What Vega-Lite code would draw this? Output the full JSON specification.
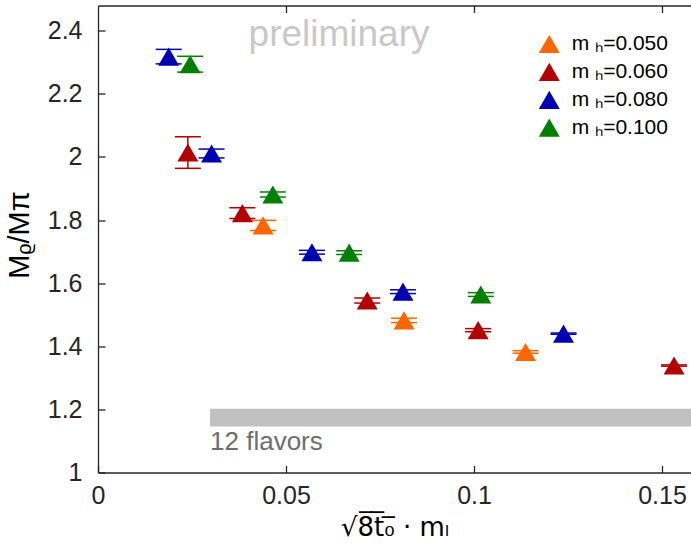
{
  "$schema": "https://vega.github.io/schema/vega-lite/v6.json",
  "width": 593,
  "height": 467,
  "autosize": {"type": "none"},
  "padding": {"left": 98, "top": 5.5, "right": 0, "bottom": 75.5},
  "background": "white",
  "config": {
    "view": {"stroke": null},
    "font": "Liberation Sans",
    "axis": {
      "grid": false,
      "domainColor": "#262626",
      "domainWidth": 1.3,
      "tickColor": "#262626",
      "tickWidth": 1.3,
      "tickSize": -7,
      "labelFont": "Liberation Sans",
      "labelFontSize": 25,
      "labelColor": "#262626",
      "labelFlush": false,
      "titleFont": "Liberation Sans",
      "titleFontSize": 29,
      "titleFontWeight": "normal",
      "titleColor": "#000000"
    },
    "legend": {
      "padding": 0,
      "title": null,
      "symbolType": "triangle-up",
      "symbolSize": 440,
      "symbolOpacity": 1,
      "symbolStrokeWidth": 0,
      "labelFontSize": 21,
      "labelFont": "Liberation Sans",
      "labelColor": "#000000",
      "labelOffset": 12,
      "rowPadding": 5.9
    }
  },
  "datasets": {
    "points": [
      {"mh": "0.080", "x": 0.0188, "y": 2.318, "lo": 2.295, "hi": 2.341},
      {"mh": "0.100", "x": 0.0245, "y": 2.294, "lo": 2.269, "hi": 2.319},
      {"mh": "0.060", "x": 0.0239, "y": 2.014, "lo": 1.964, "hi": 2.064},
      {"mh": "0.080", "x": 0.0302, "y": 2.011, "lo": 1.997, "hi": 2.025},
      {"mh": "0.100", "x": 0.0465, "y": 1.881, "lo": 1.873, "hi": 1.889},
      {"mh": "0.060", "x": 0.0384, "y": 1.822, "lo": 1.805, "hi": 1.839},
      {"mh": "0.050", "x": 0.0439, "y": 1.783, "lo": 1.767, "hi": 1.799},
      {"mh": "0.080", "x": 0.0569, "y": 1.698, "lo": 1.692, "hi": 1.704},
      {"mh": "0.100", "x": 0.0668, "y": 1.697, "lo": 1.691, "hi": 1.703},
      {"mh": "0.060", "x": 0.0716, "y": 1.545, "lo": 1.537, "hi": 1.553},
      {"mh": "0.080", "x": 0.0811, "y": 1.573, "lo": 1.567, "hi": 1.579},
      {"mh": "0.050", "x": 0.0814, "y": 1.482, "lo": 1.475, "hi": 1.489},
      {"mh": "0.100", "x": 0.1018, "y": 1.564, "lo": 1.558, "hi": 1.570},
      {"mh": "0.060", "x": 0.1011, "y": 1.451, "lo": 1.446, "hi": 1.456},
      {"mh": "0.050", "x": 0.1137, "y": 1.382, "lo": 1.378, "hi": 1.386},
      {"mh": "0.080", "x": 0.1238, "y": 1.440, "lo": 1.438, "hi": 1.442},
      {"mh": "0.060", "x": 0.1532, "y": 1.339, "lo": 1.337, "hi": 1.341}
    ]
  },
  "resolve": {"axis": {"x": "independent"}},
  "layer": [
    {
      "data": {"values": [{"x": 0.0298, "x2": 0.17, "y": 1.146, "y2": 1.202}]},
      "mark": {"type": "rect", "color": "#c0c0c0", "clip": true},
      "encoding": {
        "x": {"field": "x", "type": "quantitative", "scale": {"domain": [0, 0.1577], "nice": false, "zero": false},
              "axis": {"orient": "top", "labels": false, "title": null, "values": [0.05, 0.1, 0.15]}},
        "x2": {"field": "x2"},
        "y": {"field": "y", "type": "quantitative", "title": "Mᵨ/Mπ", "scale": {"domain": [1, 2.48], "nice": false, "zero": false}},
        "y2": {"field": "y2"}
      }
    },
    {
      "data": {"values": [{"label": "12 flavors", "x": 0.0298, "y": 1.072}]},
      "mark": {"type": "text", "align": "left", "baseline": "alphabetic", "fontSize": 26, "color": "#6e6e6e", "font": "Liberation Sans"},
      "encoding": {
        "x": {"field": "x", "type": "quantitative", "axis": null},
        "y": {"field": "y", "type": "quantitative", "title": "Mᵨ/Mπ"},
        "text": {"field": "label"}
      }
    },
    {
      "data": {"values": [{"label": "preliminary", "x": 0.0641, "y": 2.352}]},
      "mark": {"type": "text", "align": "center", "baseline": "alphabetic", "fontSize": 37, "color": "#c8c8c8", "font": "Liberation Sans"},
      "encoding": {
        "x": {"field": "x", "type": "quantitative", "axis": null},
        "y": {"field": "y", "type": "quantitative", "title": "Mᵨ/Mπ"},
        "text": {"field": "label"}
      }
    },
    {
      "data": {"name": "points"},
      "mark": {"type": "rule", "strokeWidth": 1.5, "opacity": 1},
      "encoding": {
        "x": {"field": "x", "type": "quantitative", "axis": null},
        "y": {"field": "lo", "type": "quantitative", "title": "Mᵨ/Mπ"},
        "y2": {"field": "hi"},
        "color": {"field": "mh", "type": "nominal"}
      }
    },
    {
      "data": {"name": "points"},
      "mark": {"type": "tick", "orient": "horizontal", "size": 26, "thickness": 1.5, "opacity": 1},
      "encoding": {
        "x": {"field": "x", "type": "quantitative", "axis": null},
        "y": {"field": "lo", "type": "quantitative", "title": "Mᵨ/Mπ"},
        "color": {"field": "mh", "type": "nominal"}
      }
    },
    {
      "data": {"name": "points"},
      "mark": {"type": "tick", "orient": "horizontal", "size": 26, "thickness": 1.5, "opacity": 1},
      "encoding": {
        "x": {"field": "x", "type": "quantitative", "axis": null},
        "y": {"field": "hi", "type": "quantitative", "title": "Mᵨ/Mπ"},
        "color": {"field": "mh", "type": "nominal"}
      }
    },
    {
      "data": {"name": "points"},
      "mark": {"type": "point", "shape": "triangle-up", "filled": true, "size": 440, "opacity": 1, "strokeWidth": 0},
      "encoding": {
        "x": {"field": "x", "type": "quantitative",
              "axis": {"orient": "bottom", "values": [0, 0.05, 0.1, 0.15], "format": "~g", "labelPadding": 18, "titlePadding": 6,
                       "titleFont": "DejaVu Sans", "titleFontSize": 26,
                       "title": "√8̅t̅₀̅ · mₗ"}},
        "y": {"field": "y", "type": "quantitative", "title": "Mᵨ/Mπ",
              "axis": {"values": [1, 1.2, 1.4, 1.6, 1.8, 2, 2.2, 2.4], "format": "~g", "labelPadding": 23, "titleX": -64, "titleY": 229}},
        "color": {"field": "mh", "type": "nominal",
                  "scale": {"domain": ["0.050", "0.060", "0.080", "0.100"], "range": ["#ff6600", "#b30000", "#0000b3", "#008000"]},
                  "legend": {"orient": "none", "legendX": 440.8, "legendY": 28, "labelExpr": "'m ₕ=' + datum.label"}}
      }
    }
  ]
}
